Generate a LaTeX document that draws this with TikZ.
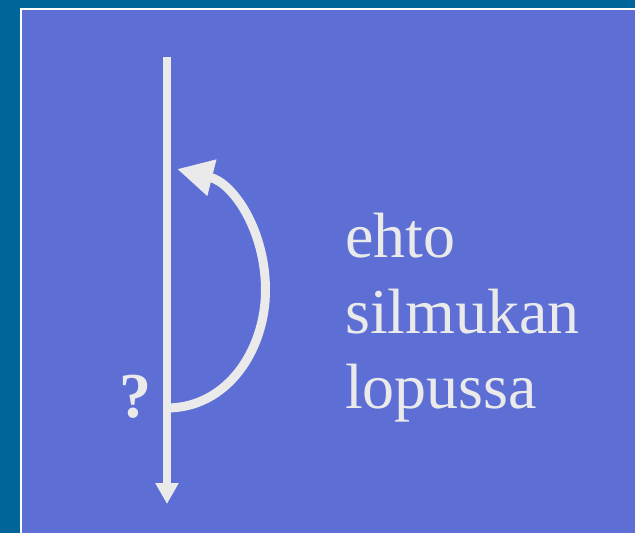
\documentclass[tikz,border=0pt]{standalone}
\usepackage{fontspec}
\setmainfont{Liberation Serif}
\usetikzlibrary{arrows.meta}
\definecolor{outerbg}{HTML}{006699}
\definecolor{innerbg}{HTML}{5D6FD5}
\definecolor{inkc}{HTML}{EAEAEA}
\tikzset{
  flowline/.style={draw=inkc, line width=7.7pt, line cap=butt},
  loopline/.style={draw=inkc, line width=9pt, line cap=butt},
  lbl/.style={text=inkc, font=\fontsize{64}{76}\selectfont, inner sep=0pt, anchor=base west},
}
\begin{document}
\begin{tikzpicture}[x=1pt,y=-1pt]
\useasboundingbox (0,0) rectangle (635,533);
\fill[outerbg] (0,0) rectangle (635,533);
\filldraw[fill=innerbg, draw=white, line width=2pt] (21,9) rectangle (660,560);
\coordinate (top) at (167,57);
\coordinate (bot) at (167,504);
\coordinate (loopstart) at (167,408);
\coordinate (loopright) at (265.5,290);
\coordinate (loopend) at (177,169);
\draw[flowline, -{Triangle[length=21pt,width=22pt,fill=inkc]}] (top) -- (bot);
\draw[loopline, -{Triangle[length=36pt,width=35pt,fill=inkc]}] (loopstart) to[out=0,in=-90] (loopright) to[out=90,in=-14] (loopend);
\node[lbl] (t1) at (345,257) {ehto};
\node[lbl] (t2) at (345,333) {silmukan};
\node[lbl] (t3) at (345,408) {lopussa};
\node[text=inkc, font=\fontsize{64}{76}\selectfont\bfseries, inner sep=0pt, anchor=base] (q) at (135,417) {?};
\end{tikzpicture}
\end{document}
